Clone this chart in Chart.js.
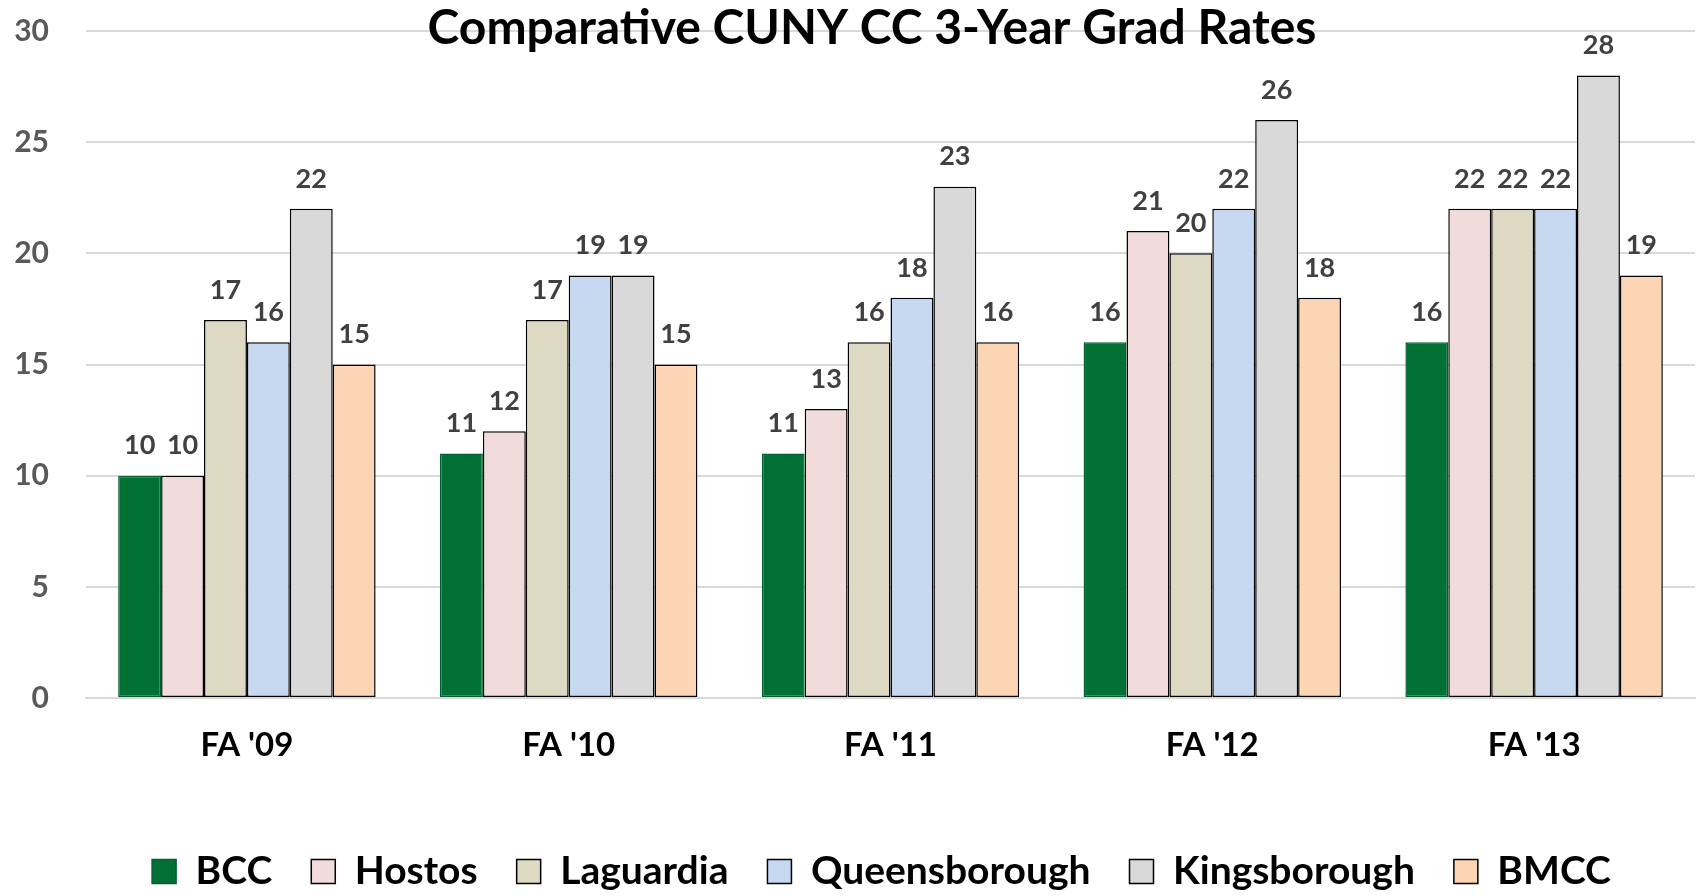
<!DOCTYPE html>
<html>
<head>
<meta charset="utf-8">
<script src="https://cdn.jsdelivr.net/npm/chart.js@4.4.0/dist/chart.umd.min.js"></script>
<style>
html, body { margin: 0; padding: 0; background: #fff; }
</style>
</head>
<body>
<canvas id="chart" width="1696" height="896"></canvas>
<script>
// data
const cohorts = ["FA '09", "FA '10", "FA '11", "FA '12", "FA '13"];
const bcc = [10, 11, 11, 16, 16];
const hostos = [10, 12, 13, 21, 22];
const laguardia = [17, 17, 16, 20, 22];
const queensborough = [16, 19, 18, 22, 22];
const kingsborough = [22, 19, 23, 26, 28];
const bmcc = [15, 15, 16, 18, 19];
const chartTitle = "Comparative CUNY CC 3-Year Grad Rates";

const FONT = "Lato, 'Open Sans', sans-serif";

// value labels above each bar
const valueLabels = {
    id: 'valueLabels',
    afterDatasetsDraw(chart) {
        const ctx = chart.ctx;
        ctx.save();
        ctx.font = "bold 27px " + FONT;
        ctx.fillStyle = "#404040";
        ctx.textAlign = "center";
        ctx.textBaseline = "middle";
        chart.data.datasets.forEach((ds, i) => {
            chart.getDatasetMeta(i).data.forEach((bar, j) => {
                ctx.fillText(ds.data[j], bar.x, bar.y - 30);
            });
        });
        ctx.restore();
    }
};

// title sits on top of the plot, like the original
const overTitle = {
    id: 'overTitle',
    afterDraw(chart) {
        const ctx = chart.ctx;
        ctx.save();
        ctx.font = "bold 48px " + FONT;
        ctx.fillStyle = "#000";
        ctx.textAlign = "center";
        ctx.textBaseline = "alphabetic";
        ctx.fillText(chartTitle, 872, 44);
        ctx.restore();
    }
};

// the legend in the original sits a bit right of centre
const legendShift = {
    id: 'legendShift',
    afterLayout(chart) {
        chart.legend.left += 34;
        chart.legend.right += 34;
    }
};

function series(label, data, color, border) {
    return {
        label: label,
        data: data,
        backgroundColor: color,
        borderColor: border,
        borderWidth: 1.5,
        borderSkipped: false
    };
}

const ctx = document.getElementById("chart").getContext("2d");
new Chart(ctx, {
    type: 'bar',
    data: {
        labels: cohorts,
        datasets: [
            series("BCC", bcc, "#007034", "#006030"),
            series("Hostos", hostos, "#F2DCDB", "#000"),
            series("Laguardia", laguardia, "#DDD9C3", "#000"),
            series("Queensborough", queensborough, "#C6D9F1", "#000"),
            series("Kingsborough", kingsborough, "#D9D9D9", "#000"),
            series("BMCC", bmcc, "#FCD5B5", "#000")
        ]
    },
    options: {
        responsive: false,
        animation: false,
        layout: { padding: { top: 31, right: 1, left: 0, bottom: -5 } },
        datasets: {
            bar: { categoryPercentage: 0.8, barPercentage: 1.0 }
        },
        scales: {
            x: {
                grid: { display: false, drawTicks: false },
                border: { color: "#D9D9D9", width: 2 },
                ticks: {
                    color: "#000",
                    font: { family: FONT, size: 33, weight: 'bold' },
                    padding: 28
                },
                afterFit(scale) { scale.height = 115; }
            },
            y: {
                min: 0,
                max: 30,
                grid: {
                    color: "#D9D9D9",
                    lineWidth: 2,
                    drawTicks: true,
                    tickLength: 35,
                    tickColor: "rgba(0,0,0,0)"
                },
                border: { display: false },
                ticks: {
                    stepSize: 5,
                    color: "#595959",
                    font: { family: FONT, size: 30, weight: 'bold' },
                    padding: 2
                },
                afterFit(scale) { scale.width = 86; }
            }
        },
        plugins: {
            title: { display: false },
            tooltip: { enabled: false },
            legend: {
                position: 'bottom',
                labels: {
                    color: "#000",
                    font: { family: FONT, size: 39, weight: 'bold' },
                    boxWidth: 24,
                    boxHeight: 24,
                    padding: 39
                }
            }
        }
    },
    plugins: [valueLabels, overTitle, legendShift]
});
</script>
</body>
</html>
